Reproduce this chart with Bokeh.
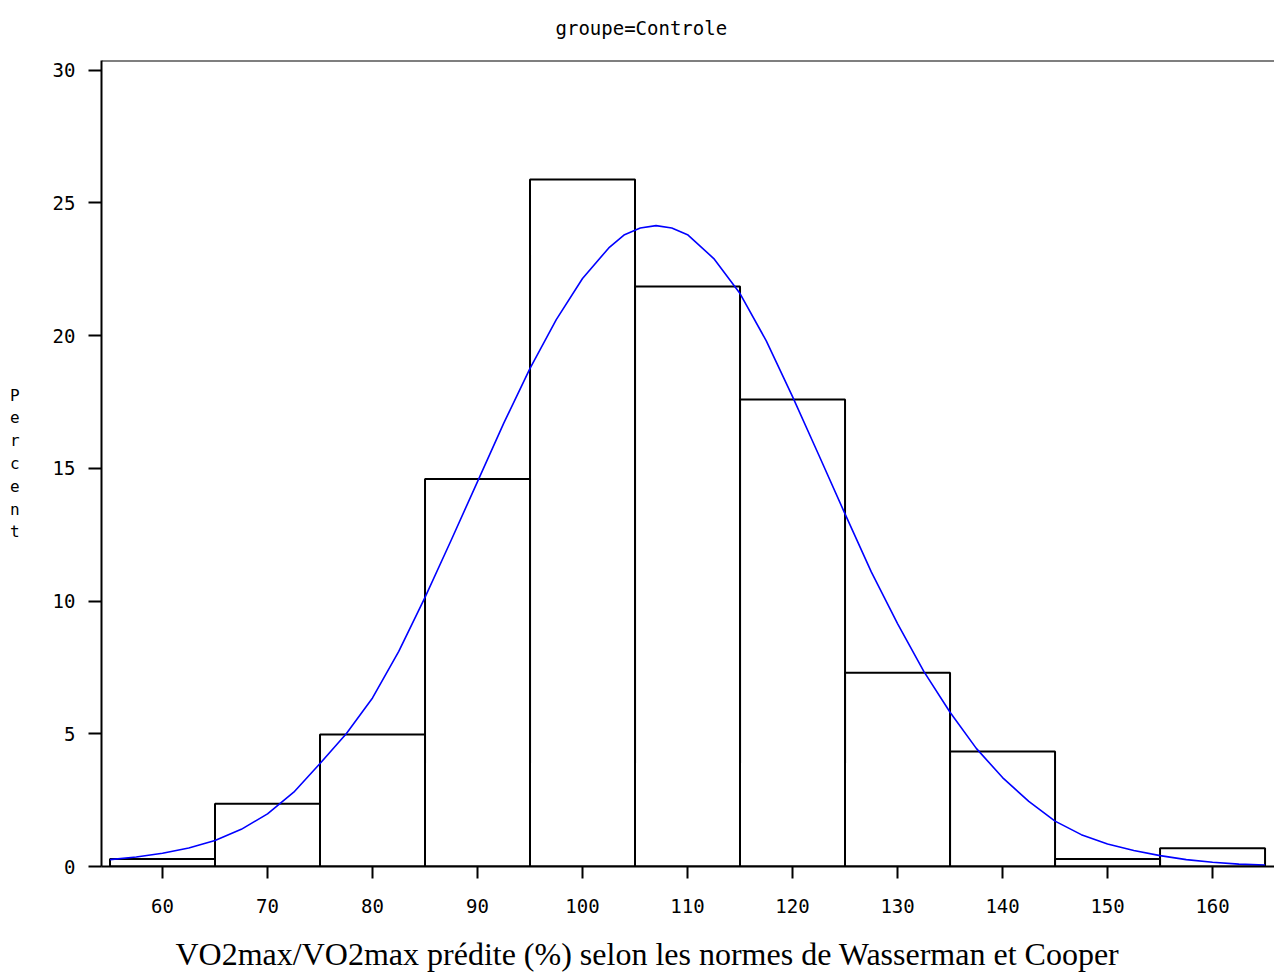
from bokeh.plotting import figure
from bokeh.models import Range1d, FixedTicker, Span, Title
from bokeh.embed import file_html
from bokeh.resources import INLINE

# ---- data ----
bin_left = [55, 65, 75, 85, 95, 105, 115, 125, 135, 145, 155]
bin_right = [65, 75, 85, 95, 105, 115, 125, 135, 145, 155, 165]
percent = [0.28, 2.36, 4.97, 14.6, 25.88, 21.85, 17.59, 7.3, 4.33, 0.28, 0.69]

curve_x = [55, 57.5, 60, 62.5, 65, 67.5, 70, 72.5, 75, 77.5, 80, 82.5, 85, 87.5,
           90, 92.5, 95, 97.5, 100, 102.5, 104, 105.5, 107, 108.5, 110, 112.5, 115, 117.5,
           120, 122.5, 125, 127.5, 130, 132.5, 135, 137.5, 140, 142.5, 145,
           147.5, 150, 152.5, 155, 157.5, 160, 162.5, 165]
curve_pct = [0.26, 0.36, 0.50, 0.70, 0.98, 1.40, 1.98, 2.80, 3.88, 5.00, 6.35,
             8.10, 10.14, 12.30, 14.50, 16.70, 18.76, 20.60, 22.15, 23.30, 23.80,
             24.05, 24.14, 24.05, 23.80, 22.90, 21.58, 19.80, 17.70, 15.50, 13.28,
             11.10, 9.15, 7.35, 5.81, 4.45, 3.35, 2.45, 1.71, 1.20, 0.85, 0.60,
             0.41, 0.26, 0.16, 0.09, 0.05]

x_ticks = [60, 70, 80, 90, 100, 110, 120, 130, 140, 150, 160]
y_ticks = [0, 5, 10, 15, 20, 25, 30]

title_text = "groupe=Controle"
x_label = "VO2max/VO2max prédite (%) selon les normes de Wasserman et Cooper"
y_label = "P\ne\nr\nc\ne\nn\nt"

MONO = "DejaVu Sans Mono"

p = figure(width=1274, height=975, output_backend="svg", toolbar_location=None,
           x_range=Range1d(54.19, 165.9), y_range=Range1d(0, 30.36),
           min_border_left=101, min_border_right=0, min_border_top=60,
           min_border_bottom=109)

p.background_fill_color = "white"
p.border_fill_color = "white"
p.outline_line_color = None
p.grid.visible = False

# top frame line
p.add_layout(Span(location=30.36, dimension="width", line_color="black", line_width=2))

# histogram bars
p.quad(left=bin_left, right=bin_right, bottom=0, top=percent,
       fill_color=None, line_color="black", line_width=2)

# fitted curve
p.line(curve_x, curve_pct, line_color="#0000FF", line_width=1.6, line_join="round")

# axes
for ax in (p.xaxis[0], p.yaxis[0]):
    ax.axis_line_color = "black"
    ax.axis_line_width = 2
    ax.major_tick_line_color = "black"
    ax.major_tick_line_width = 2
    ax.major_tick_in = 0
    ax.minor_tick_line_color = None
    ax.major_label_text_font = MONO
    ax.major_label_text_font_size = "19px"
    ax.major_label_text_color = "black"

p.xaxis[0].ticker = FixedTicker(ticks=x_ticks)
p.xaxis[0].major_tick_out = 12
p.xaxis[0].major_label_standoff = 20

p.yaxis[0].ticker = FixedTicker(ticks=y_ticks)
p.yaxis[0].major_tick_out = 13
p.yaxis[0].major_label_standoff = 13
p.yaxis[0].axis_label = y_label
p.yaxis[0].axis_label_orientation = "horizontal"
p.yaxis[0].axis_label_text_font = MONO
p.yaxis[0].axis_label_text_font_size = "16px"
p.yaxis[0].axis_label_text_font_style = "normal"
p.yaxis[0].axis_label_text_color = "black"
p.yaxis[0].axis_label_standoff = 30

# real title (outermost) and a small spacer panel next to the frame
p.title.text = title_text
p.title.text_font = MONO
p.title.text_font_size = "19px"
p.title.text_font_style = "normal"
p.title.text_color = "black"
p.title.align = "left"
p.title.offset = 454
p.title.standoff = 24

spt = Title(text=" ", text_font_size="6px", standoff=2)
p.add_layout(spt, "above")

# spacer below the x axis, then the x label
sp = Title(text=" ", text_font_size="10px", standoff=2)
p.add_layout(sp, "below")
xt = Title(text=x_label, text_font="Liberation Serif", text_font_size="32px",
           text_font_style="normal", text_color="black", align="left",
           offset=74, standoff=6)
p.add_layout(xt, "below")

open("out.html", "w").write(file_html(p, INLINE))
